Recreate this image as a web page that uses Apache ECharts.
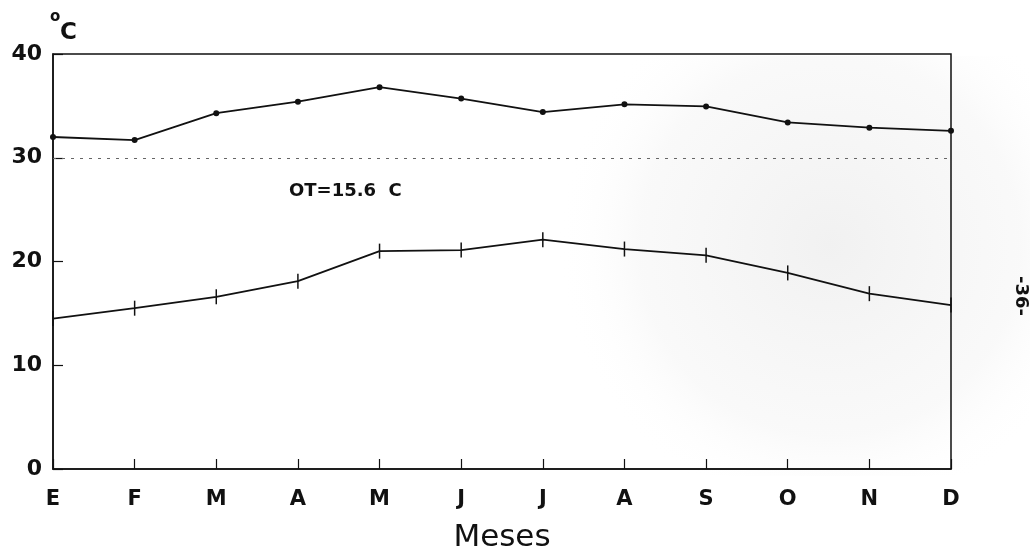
<!DOCTYPE html>
<html>
<head>
<meta charset="utf-8">
<script src="https://cdn.jsdelivr.net/npm/echarts@6/dist/echarts.min.js"></script>
<style>
html,body{margin:0;padding:0;background:#fff;}
#c{width:1030px;height:556px;}
</style>
</head>
<body>
<div id="c"></div>
<script>
var months = ['E','F','M','A','M','J','J','A','S','O','N','D'];
var tMax = [32.0, 31.7, 34.3, 35.4, 36.8, 35.7, 34.4, 35.15, 34.95, 33.4, 32.9, 32.6];
var tMin = [14.5, 15.5, 16.6, 18.1, 21.0, 21.1, 22.1, 21.2, 20.6, 18.9, 16.9, 15.8];
var yTicks = [0, 10, 20, 30, 40];

var FONT = 'DejaVu Sans';
var chart = echarts.init(document.getElementById('c'), null, {renderer: 'canvas'});
chart.setOption({
  backgroundColor: '#fff',
  animation: false,
  grid: {left: 53, right: 79, top: 54, bottom: 87, show: true, borderColor: '#111', borderWidth: 1.5, backgroundColor: 'transparent'},
  xAxis: {
    type: 'category', data: months, boundaryGap: false,
    axisLine: {lineStyle: {color: '#111', width: 1.5}},
    axisTick: {inside: true, length: 10, lineStyle: {color: '#111', width: 1.2}},
    axisLabel: {fontFamily: FONT, fontSize: 21, fontWeight: 'bold', color: '#111', margin: 20},
    splitLine: {show: false}
  },
  yAxis: {
    type: 'value', min: yTicks[0], max: yTicks[yTicks.length - 1], interval: 10,
    axisLine: {show: true, lineStyle: {color: '#111', width: 1.5}},
    axisTick: {show: true, inside: true, length: 10, lineStyle: {color: '#111', width: 1.2}},
    axisLabel: {fontFamily: FONT, fontSize: 22, fontWeight: 'bold', color: '#111', margin: 11, padding: [6, 0, 0, 0]},
    splitLine: {show: false}
  },
  graphic: [
    {type: 'rect', z: -10, silent: true, shape: {x: 530, y: 56, width: 500, height: 420},
      style: {fill: new echarts.graphic.RadialGradient(0.6, 0.45, 0.65, [
        {offset: 0, color: 'rgba(205,205,205,0.28)'},
        {offset: 0.7, color: 'rgba(215,215,215,0.14)'},
        {offset: 1, color: 'rgba(255,255,255,0)'}])}},
    {type: 'text', left: 50, top: 10, style: {text: 'o', fontFamily: FONT, fontSize: 15, fontWeight: 'bold', fill: '#111'}},
    {type: 'text', left: 60, top: 22, style: {text: 'C', fontFamily: FONT, fontSize: 23, fontWeight: 'bold', fill: '#111'}},
    {type: 'text', left: 289, top: 182, style: {text: 'OT=15.6  C', fontFamily: FONT, fontSize: 18, fontWeight: 'bold', fill: '#111'}},
    {type: 'text', x: 502, y: 538, style: {text: 'Meses', fontFamily: FONT, fontSize: 31, fill: '#111', align: 'center', verticalAlign: 'middle'}},
    {type: 'text', x: 1021, y: 296, rotation: -Math.PI / 2, style: {text: '-36-', fontFamily: FONT, fontSize: 18, fontWeight: 'bold', fill: '#111', align: 'center', verticalAlign: 'middle'}}
  ],
  series: [
    {
      type: 'line', data: tMax, symbol: 'circle', symbolSize: 6,
      lineStyle: {color: '#111', width: 1.8}, itemStyle: {color: '#111'},
      markLine: {silent: true, symbol: 'none', label: {show: false},
        lineStyle: {color: '#666', type: [3, 6], width: 1},
        data: [{yAxis: 30}]}
    },
    {
      type: 'line', data: tMin, symbol: 'rect', symbolSize: [1.5, 15],
      lineStyle: {color: '#111', width: 1.8}, itemStyle: {color: '#111'}
    }
  ]
});
</script>
</body>
</html>
